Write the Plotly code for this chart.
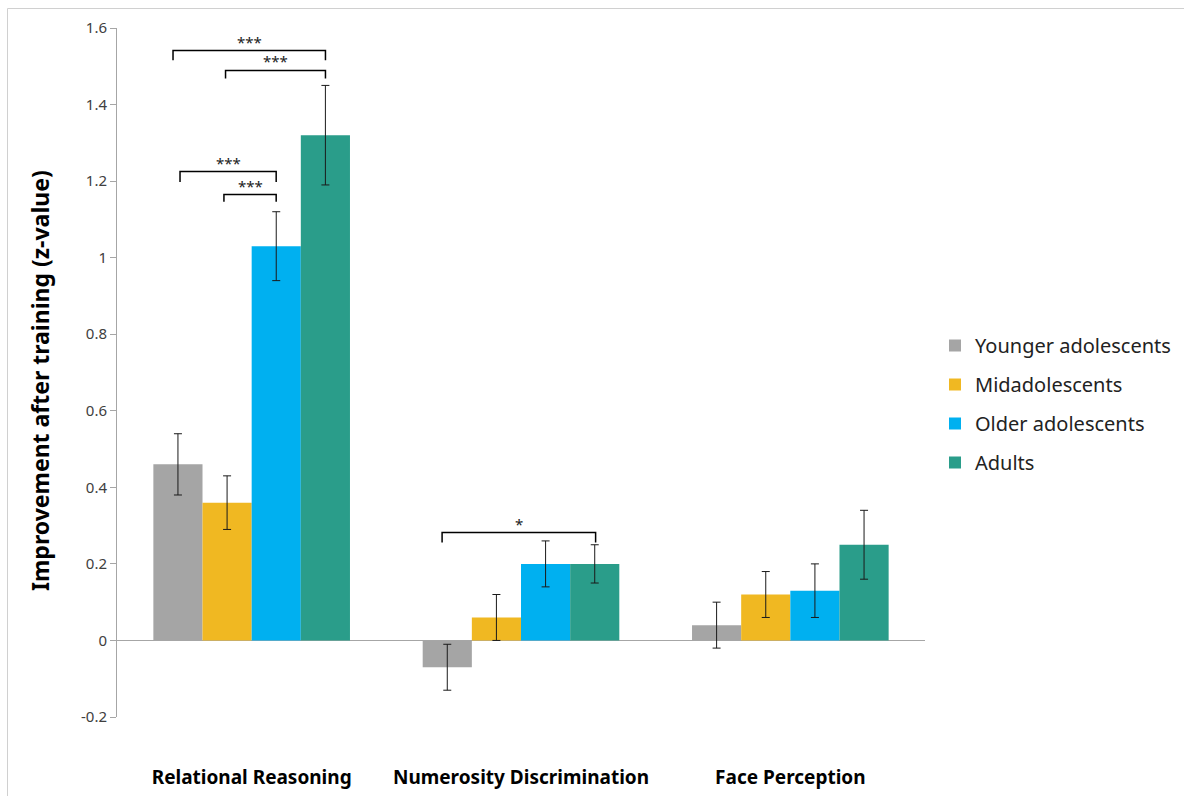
import plotly.graph_objects as go

categories = ["Relational Reasoning", "Numerosity Discrimination", "Face Perception"]
groups = ["Younger adolescents", "Midadolescents", "Older adolescents", "Adults"]
colors = ["#A5A5A5", "#F0B822", "#00B0F0", "#2A9D8A"]

younger = [0.46, -0.07, 0.04]
younger_err = [0.08, 0.06, 0.06]
mid = [0.36, 0.06, 0.12]
mid_err = [0.07, 0.06, 0.06]
older = [1.03, 0.20, 0.13]
older_err = [0.09, 0.06, 0.07]
adults = [1.32, 0.20, 0.25]
adults_err = [0.13, 0.05, 0.09]

values = [younger, mid, older, adults]
errors = [younger_err, mid_err, older_err, adults_err]

# significance brackets: (x_left, x_right, y_top, y_drop, label)
brackets = [
    (-0.292, 0.274, 1.541, 1.516, "***"),
    (-0.097, 0.274, 1.489, 1.468, "***"),
    (-0.266, 0.091, 1.225, 1.198, "***"),
    (-0.103, 0.091, 1.165, 1.146, "***"),
    (0.707, 1.277, 0.282, 0.256, "*"),
]

xpos = list(range(len(categories)))

W, H = 1184, 796
L, T, R, B = 117, 28, 259, 79
PW, PH = W - L - R, H - T - B


def px(x):
    return (x - L) / PW


def py(y):
    return (T + PH - y) / PH


fig = go.Figure()
for name, vals, errs, col in zip(groups, values, errors, colors):
    fig.add_trace(go.Bar(
        x=xpos, y=vals, name=name, legendgroup=name,
        marker=dict(color=col, line=dict(width=0)),
        error_y=dict(type="data", array=errs, visible=True,
                     color="#1a1a1a", thickness=1, width=4),
    ))

shapes = []
annotations = []
for xl, xr, yt, yd, lab in brackets:
    shapes.append(dict(type="path", xref="x", yref="y",
                       path=f"M {xl},{yd} L {xl},{yt} L {xr},{yt} L {xr},{yd}",
                       line=dict(color="black", width=1.5)))
    annotations.append(dict(x=(xl + xr) / 2, y=yt, xref="x", yref="y",
                            text=lab, showarrow=False, yanchor="bottom",
                            yshift=-3,
                            font=dict(family="Noto Sans", size=15, color="#222")))

# y-axis title
annotations.append(dict(x=px(40), y=py(381), xref="paper", yref="paper",
                        text="<b>Improvement after training (z-value)</b>",
                        textangle=-90, showarrow=False,
                        xanchor="center", yanchor="middle",
                        font=dict(family="Noto Sans", size=23, color="black")))

# outer frame
shapes.append(dict(type="rect", xref="paper", yref="paper",
                   x0=px(7.5), x1=px(1300), y0=py(900), y1=py(8.5),
                   line=dict(color="#d0d0d0", width=1), layer="below"))

fig.update_layout(
    width=W, height=H,
    margin=dict(l=L, r=R, t=T, b=B, autoexpand=False),
    paper_bgcolor="white", plot_bgcolor="white",
    barmode="group", bargap=0.27, bargroupgap=0,
    showlegend=True,
    legend=dict(x=px(935), y=py(326), xanchor="left", yanchor="top",
                font=dict(family="Noto Sans", size=20, color="#222"),
                traceorder="grouped", tracegroupgap=10),
    shapes=shapes, annotations=annotations,
    xaxis=dict(range=[-0.5, 2.5], tickvals=xpos,
               ticktext=["<b>" + c + "</b>" for c in categories],
               tickfont=dict(family="Noto Sans", size=19, color="black"),
               showline=False, showgrid=False, zeroline=False, ticks="",
               ticklabelstandoff=47, automargin=False),
    yaxis=dict(range=[-0.2, 1.6], tickvals=[-0.2, 0, 0.2, 0.4, 0.6, 0.8, 1, 1.2, 1.4, 1.6],
               ticktext=["-0.2", "0", "0.2", "0.4", "0.6", "0.8", "1", "1.2", "1.4", "1.6"],
               tickfont=dict(family="Noto Sans", size=15, color="#404040"),
               showline=True, linecolor="#a6a6a6", linewidth=1,
               ticks="outside", ticklen=6, tickcolor="#a6a6a6",
               showgrid=False, zeroline=True, zerolinecolor="#a6a6a6", zerolinewidth=1,
               automargin=False),
)

fig.write_html("out.html", config={"displayModeBar": False},
               post_script="document.body.style.margin='0';")
